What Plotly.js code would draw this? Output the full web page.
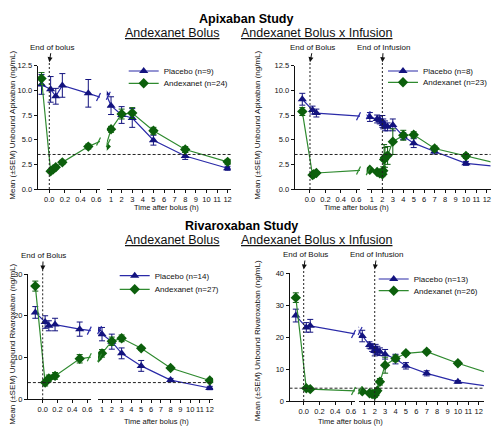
<!DOCTYPE html>
<html><head><meta charset="utf-8">
<script src="https://cdn.plot.ly/plotly-3.0.1.min.js"></script>
<style>html,body{margin:0;padding:0;background:#fff}#chart{width:500px;height:429px}</style>
</head><body><div id="chart"></div><script>
// ---------------- DATA ----------------
// Apixaban study – Andexanet bolus
const APX_B_T_PBO = [-0.1, 0.017, 0.083, 0.167, 0.5, 1, 2, 3, 5, 8, 12];
const APX_B_PBO   = [10.6, 10.1, 9.4, 10.5, 9.7, 8.45, 7.5, 7.2, 4.95, 3.35, 2.1];
const APX_B_PBO_E = [1.0, 1.3, 0.8, 1.2, 1.4, 0.9, 0.85, 0.95, 0.5, 0.35, 0.2];
const APX_B_T_AND = [-0.1, 0.017, 0.05, 0.083, 0.167, 0.5, 1, 2, 3, 5, 8, 12];
const APX_B_AND   = [11.2, 1.8, 2.0, 2.2, 2.7, 4.3, 6.05, 7.6, 7.7, 5.9, 4.0, 2.75];
const APX_B_AND_E = [0.6, 0.15, 0.15, 0.15, 0.2, 0.25, 0.3, 0.5, 0.55, 0.35, 0.3, 0.25];
// Apixaban study – Andexanet bolus + infusion
const APX_I_T_PBO = [-0.1, 0.033, 0.083, 0.8, 1.5, 1.75, 2, 2.083, 2.25, 2.5, 3, 4, 5, 7, 10, 14];
const APX_I_PBO   = [9.1, 8.0, 7.7, 7.3, 7.1, 7.0, 6.85, 6.6, 6.4, 6.3, 6.5, 5.35, 4.65, 3.8, 2.6, 2.17];
const APX_I_PBO_E = [0.6, 0.4, 0.4, 0.45, 0.4, 0.4, 0.6, 0.5, 0.5, 0.4, 0.6, 0.35, 0.45, 0.25, 0.2, 0];
const APX_I_T_AND = [-0.1, 0.033, 0.05, 0.083, 0.8, 1.5, 1.75, 2, 2.083, 2.167, 2.25, 2.5, 3, 4, 5, 7, 10, 14];
const APX_I_AND   = [7.85, 1.42, 1.5, 1.62, 1.95, 1.72, 1.6, 1.5, 1.85, 3.0, 3.2, 3.4, 4.8, 5.45, 5.5, 4.1, 3.35, 2.35];
const APX_I_AND_E = [0.4, 0.15, 0.15, 0.15, 0.15, 0.15, 0.15, 0.25, 0.4, 1.5, 1.0, 0.9, 1.3, 0.5, 0.3, 0.25, 0.25, 0];
// Rivaroxaban study – Andexanet bolus
const RIV_B_T_PBO = [-0.1, 0.033, 0.083, 0.167, 0.5, 1, 2, 3, 5, 8, 12];
const RIV_B_PBO   = [20.8, 18.5, 17.6, 17.9, 16.8, 15.6, 13.8, 11.0, 8.0, 4.6, 2.7];
const RIV_B_PBO_E = [1.4, 1.5, 1.2, 1.5, 1.7, 1.6, 1.8, 1.3, 1.3, 0.4, 0.4];
const RIV_B_T_AND = [-0.1, 0.033, 0.083, 0.167, 0.5, 1, 2, 3, 5, 8, 12];
const RIV_B_AND   = [27.1, 4.0, 5.0, 5.6, 9.7, 11.0, 13.9, 14.6, 12.2, 7.5, 4.5];
const RIV_B_AND_E = [1.2, 0.8, 0.8, 0.8, 1.0, 0.9, 1.0, 0.8, 0.4, 0.4, 0.5];
// Rivaroxaban study – Andexanet bolus + infusion
const RIV_I_T_PBO = [-0.1, 0.033, 0.083, 0.8, 1.5, 1.75, 2, 2.083, 2.25, 2.5, 3, 4, 5, 7, 10, 14];
const RIV_I_PBO   = [26.7, 23.0, 23.5, 20.3, 17.5, 16.7, 15.6, 16.2, 15.8, 15.4, 14.6, 13.1, 11.0, 8.65, 6.0, 4.1];
const RIV_I_PBO_E = [2.0, 1.5, 2.0, 1.8, 1.0, 1.2, 1.5, 1.5, 1.3, 1.2, 1.5, 1.5, 1.0, 0.8, 0.4, 0];
const RIV_I_T_AND = [-0.1, 0.033, 0.083, 0.8, 1.5, 1.75, 2, 2.083, 2.25, 2.5, 3, 4, 5, 7, 10, 14];
const RIV_I_AND   = [32.3, 4.0, 3.7, 3.0, 2.4, 2.2, 1.9, 2.6, 3.2, 6.0, 11.2, 13.3, 14.9, 15.4, 11.8, 7.6];
const RIV_I_AND_E = [1.5, 0.4, 0.4, 0.4, 0.4, 0.4, 0.8, 0.6, 0.6, 1.0, 2.5, 1.0, 0.6, 0.6, 0.6, 0];

const APX_THRESHOLD = 3.5;
const RIV_THRESHOLD = 4;
const STUDIES = ['Apixaban Study', 'Rivaroxaban Study'];
const PANEL_TITLES = ['Andexanet Bolus', 'Andexanet Bolus x Infusion', 'Andexanet Bolus', 'Andexanet Bolus x Infusion'];
const LEG_PBO = ['Placebo (n=9)', 'Placebo (n=8)', 'Placebo (n=14)', 'Placebo (n=13)'];
const LEG_AND = ['Andexanet (n=24)', 'Andexanet (n=23)', 'Andexanet (n=27)', 'Andexanet (n=26)'];
const Y_TITLES = ['Mean (±SEM) Unbound Apixaban (ng/mL)', 'Mean (±SEM) Unbound Apixaban (ng/mL)',
                  'Mean (±SEM) Unbound Rivaroxaban (ng/mL)', 'Mean (±SEM) Unbound Rivaroxaban (ng/mL)'];
const X_TITLE = 'Time after bolus (h)';
const LEFT_TICKS = [0, 0.2, 0.4, 0.6];
const RIGHT_TICKS = [1,2,3,4,5,6,7,8,9,10,11,12];
const APX_Y_TICKS = [0, 2.5, 5, 7.5, 10, 12.5];
const RIV_B_Y_TICKS = [0, 10, 20, 30];
const RIV_I_Y_TICKS = [0, 10, 20, 30, 40];
const MARKERS_BOLUS = [{t: 0, text: 'End of bolus'}];
const MARKERS_BOLUS2 = [{t: 0, text: 'End of Bolus'}];
const MARKERS_INF = [{t: 0, text: 'End of Bolus'}, {t: 2, text: 'End of Infusion'}];

// ---------------- STYLE / GEOMETRY ----------------
const FONT = 'Arial, "Liberation Sans", sans-serif';
const W = 500, H = 429;
const fx = p => p / W, fy = p => 1 - p / H;
const PBO_MK = '#13137f', PBO_LN = '#2a2aa8';
const AND_MK = '#0c5f0c', AND_LN = '#2f8a2f';
const INK = '#111';

const panels = [
  {tP: APX_B_T_PBO, yP: APX_B_PBO, eP: APX_B_PBO_E, tA: APX_B_T_AND, yA: APX_B_AND, eA: APX_B_AND_E, thr: APX_THRESHOLD,
   yticks: APX_Y_TICKS, yfmt: '.1f', marks: MARKERS_BOLUS,
   rL: [-0.15, 0.65], rR: [0.6, 12.3], rY: [0, 12.5], xl: [37.6, 100], xr: [106.8, 230.8], yb: 189, yt: 65.7,
   title: [123.3, 33], xt: [131.7, 207], ytl: [11.7, 125], leg: [145.7, 71, 83.3], markAx: [2.4]},
  {tP: APX_I_T_PBO, yP: APX_I_PBO, eP: APX_I_PBO_E, tA: APX_I_T_AND, yA: APX_I_AND, eA: APX_I_AND_E, thr: APX_THRESHOLD,
   yticks: APX_Y_TICKS, yfmt: '.1f', marks: MARKERS_INF,
   rL: [-0.2, 0.65], rR: [0.5, 12.35], rY: [0, 12.5], xl: [294.6, 360], xr: [366.7, 490.5], yb: 189, yt: 65.7,
   title: [394.5, 33], xt: [391, 207], ytl: [256.7, 125], leg: [405, 71, 82.3], markAx: [3, 1]},
  {tP: RIV_B_T_PBO, yP: RIV_B_PBO, eP: RIV_B_PBO_E, tA: RIV_B_T_AND, yA: RIV_B_AND, eA: RIV_B_AND_E, thr: RIV_THRESHOLD,
   yticks: RIV_B_Y_TICKS, yfmt: '', marks: MARKERS_BOLUS2,
   rL: [-0.2, 0.65], rR: [0.6, 12.35], rY: [0, 30], xl: [27.9, 90.8], xr: [98.1, 213.2], yb: 399.3, yt: 274,
   title: [123.3, 240], xt: [121.7, 421.7], ytl: [11.7, 344], leg: [136.7, 275.7, 289.3], markAx: [0.5]},
  {tP: RIV_I_T_PBO, yP: RIV_I_PBO, eP: RIV_I_PBO_E, tA: RIV_I_T_AND, yA: RIV_I_AND, eA: RIV_I_AND_E, thr: RIV_THRESHOLD,
   yticks: RIV_I_Y_TICKS, yfmt: '', marks: MARKERS_INF,
   rL: [-0.18, 0.65], rR: [0.45, 12.5], rY: [0, 40], xl: [289.5, 355], xr: [358.6, 483.9], yb: 401, yt: 273,
   title: [394.5, 239.5], xt: [385, 421], ytl: [257.3, 341], leg: [395.7, 279, 290.7], markAx: [2, 2]}
];

function interp(t, y, x) {
  for (let i = 0; i < t.length - 1; i++) {
    if (t[i] <= x && t[i + 1] >= x) return y[i] + (y[i + 1] - y[i]) * (x - t[i]) / (t[i + 1] - t[i]);
  }
  return null;
}

function segTrace(t, y, e, xa, ya, rng, name, mk, ln, symbol, size, legendId, show) {
  const xs = [], ys = [], es = [];
  const inR = v => v >= rng[0] && v <= rng[1];
  for (let i = 0; i < t.length; i++) {
    const inside = inR(t[i]);
    const nb = (i + 1 < t.length && inR(t[i + 1])) || (i > 0 && inR(t[i - 1]));
    if (inside || nb) { xs.push(t[i]); ys.push(y[i]); es.push(inside ? e[i] : NaN); }
  }
  return {
    type: 'scatter', mode: 'lines+markers', x: xs, y: ys, xaxis: xa, yaxis: ya, name: name,
    legend: legendId, showlegend: show, cliponaxis: true, hoverinfo: 'skip',
    line: {color: ln, width: 1.2},
    marker: {symbol: symbol, size: size, color: mk, line: {width: 0}},
    error_y: {type: 'data', array: es, visible: true, color: mk, thickness: 1, width: 3}
  };
}

const data = [];
const layout = {
  width: W, height: H, margin: {l: 0, r: 0, t: 0, b: 0},
  paper_bgcolor: '#fff', plot_bgcolor: 'rgba(0,0,0,0)',
  font: {family: FONT, size: 8, color: INK},
  shapes: [], annotations: []
};

const tickFont = {family: FONT, size: 7.5, color: INK};

panels.forEach((p, k) => {
  const nL = 2 * k + 1, nR = 2 * k + 2, nY = k + 1;
  const xL = 'x' + nL, xR = 'x' + nR, yA = 'y' + nY;
  const keyX = n => (n === 1 ? 'xaxis' : 'xaxis' + n);
  const keyY = n => (n === 1 ? 'yaxis' : 'yaxis' + n);
  const legP = (2 * k + 1) === 1 ? 'legend' : 'legend' + (2 * k + 1);
  const legA = 'legend' + (2 * k + 2);
  const yDom = [fy(p.yb), fy(p.yt)];

  const xCommon = {anchor: yA, showgrid: false, zeroline: false, showline: true, linecolor: INK, linewidth: 1,
    ticks: 'outside', ticklen: 2.5, tickwidth: 1, tickcolor: INK, tickangle: 0, tickfont: tickFont, fixedrange: true};
  layout[keyX(nL)] = Object.assign({}, xCommon, {domain: [fx(p.xl[0]), fx(p.xl[1])], range: p.rL,
    tickvals: LEFT_TICKS, tickformat: '.1f'});
  layout[keyX(nR)] = Object.assign({}, xCommon, {domain: [fx(p.xr[0]), fx(p.xr[1])], range: p.rR,
    tickvals: RIGHT_TICKS});
  layout[keyY(nY)] = {domain: yDom, range: p.rY, anchor: xL, showgrid: false, zeroline: false,
    showline: true, linecolor: INK, linewidth: 1, ticks: 'outside', ticklen: 3, tickwidth: 1, tickcolor: INK,
    tickvals: p.yticks, tickformat: p.yfmt, tickfont: tickFont, fixedrange: true};

  // series on both axis segments
  data.push(segTrace(p.tP, p.yP, p.eP, xL, yA, p.rL, LEG_PBO[k], PBO_MK, PBO_LN, 'triangle-up', 8, legP, true));
  data.push(segTrace(p.tP, p.yP, p.eP, xR, yA, p.rR, LEG_PBO[k], PBO_MK, PBO_LN, 'triangle-up', 8, legP, false));
  data.push(segTrace(p.tA, p.yA, p.eA, xL, yA, p.rL, LEG_AND[k], AND_MK, AND_LN, 'diamond', 8, legA, true));
  data.push(segTrace(p.tA, p.yA, p.eA, xR, yA, p.rR, LEG_AND[k], AND_MK, AND_LN, 'diamond', 8, legA, false));

  // legends (one per item, Prism-like compact placement)
  const legBase = {xanchor: 'left', yanchor: 'middle', bgcolor: 'rgba(0,0,0,0)', borderwidth: 0,
    font: {family: FONT, size: 8, color: INK}, itemclick: false, itemdoubleclick: false};
  layout[legP] = Object.assign({}, legBase, {x: fx(p.leg[0] - 22), y: fy(p.leg[1])});
  layout[legA] = Object.assign({}, legBase, {x: fx(p.leg[0] - 22), y: fy(p.leg[2])});

  // threshold line
  layout.shapes.push({type: 'line', xref: 'paper', yref: yA, x0: fx(p.xl[0]), x1: fx(p.xr[1]), y0: p.thr, y1: p.thr,
    line: {color: '#222', width: 1, dash: '3px,2px'}});

  // event markers (dashed verticals + arrows)
  p.marks.forEach((m, j) => {
    const xa = m.t < p.rL[1] ? xL : xR;
    layout.shapes.push({type: 'line', xref: xa, yref: 'paper', x0: m.t, x1: m.t, y0: yDom[0], y1: fy(p.yt - 4),
      line: {color: '#222', width: 1, dash: '2px,2px'}});
    layout.annotations.push({xref: xa, yref: 'paper', x: m.t, y: fy(p.yt - 3.5), text: m.text, showarrow: true,
      ax: p.markAx[j], ay: -15, arrowhead: 2, arrowsize: 1, arrowwidth: 1, arrowcolor: INK, standoff: 0,
      font: {family: FONT, size: 8, color: INK}});
  });

  // axis-break slashes on each series line
  [[p.tP, p.yP, PBO_LN], [p.tA, p.yA, AND_LN]].forEach(([t, y, c]) => {
    const yl = interp(t, y, p.rL[1]);
    const yr = interp(t, y, p.rR[0]);
    if (yl !== null) layout.shapes.push({type: 'line', xref: 'paper', yref: yA, xsizemode: 'pixel', ysizemode: 'pixel',
      xanchor: fx(p.xl[1]) - 1.5 / W, yanchor: yl, x0: -2, x1: 2, y0: -4, y1: 4, line: {color: c, width: 1.2}});
    if (yr !== null) layout.shapes.push({type: 'line', xref: 'paper', yref: yA, xsizemode: 'pixel', ysizemode: 'pixel',
      xanchor: fx(p.xr[0]) + 1.5 / W, yanchor: yr, x0: -2, x1: 2, y0: -4, y1: 4, line: {color: c, width: 1.2}});
  });

  // titles
  layout.annotations.push({xref: 'paper', yref: 'paper', x: fx(p.title[0]), y: fy(p.title[1]), yanchor: 'middle',
    text: '<u>' + PANEL_TITLES[k] + '</u>', showarrow: false, font: {family: FONT, size: 12.5, color: INK}});
  layout.annotations.push({xref: 'paper', yref: 'paper', x: fx(p.xt[0]), y: fy(p.xt[1]), yanchor: 'middle',
    text: X_TITLE, showarrow: false, font: {family: FONT, size: 7.5, color: INK}});
  layout.annotations.push({xref: 'paper', yref: 'paper', x: fx(p.ytl[0]), y: fy(p.ytl[1]), xanchor: 'center', yanchor: 'middle',
    text: Y_TITLES[k], textangle: -90, showarrow: false, font: {family: FONT, size: 8, color: INK}});
});

// study headings
layout.annotations.push({xref: 'paper', yref: 'paper', x: fx(246), y: fy(19), yanchor: 'middle', showarrow: false,
  text: '<b>' + STUDIES[0] + '</b>', font: {family: FONT, size: 12.5, color: '#000'}});
layout.annotations.push({xref: 'paper', yref: 'paper', x: fx(241), y: fy(226), yanchor: 'middle', showarrow: false,
  text: '<b>' + STUDIES[1] + '</b>', font: {family: FONT, size: 12.5, color: '#000'}});

Plotly.newPlot('chart', data, layout, {staticPlot: true, displayModeBar: false});
</script></body></html>
